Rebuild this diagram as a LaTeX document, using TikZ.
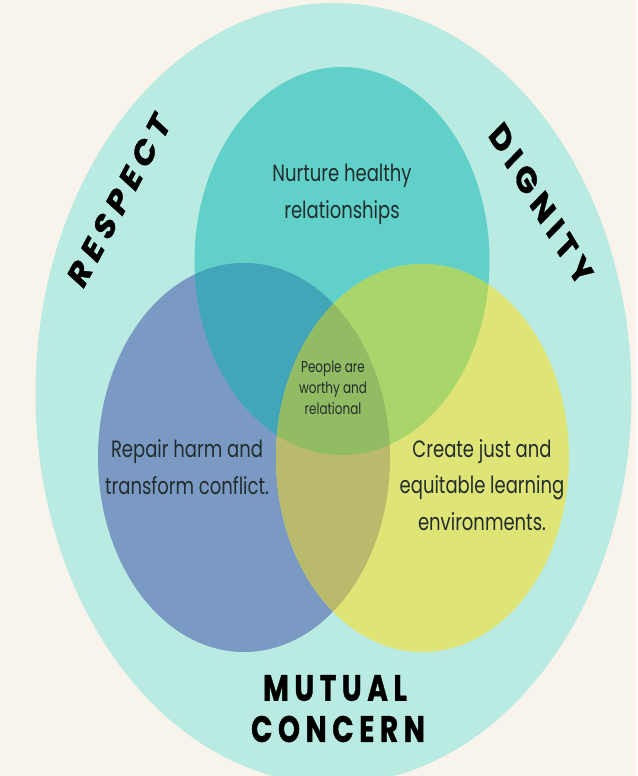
\documentclass[tikz,border=0pt]{standalone}
\usepackage{fontspec}
\setmainfont{Poppins}
\newfontfamily\labfont[LetterSpace=20,FakeBold=1.2]{Poppins}
\definecolor{bg}{RGB}{249,244,235}
\definecolor{outer}{RGB}{185,235,226}
\definecolor{teal}{RGB}{96,208,200}
\definecolor{bluec}{RGB}{122,154,196}
\definecolor{yel}{RGB}{222,228,118}
\definecolor{tb}{RGB}{67,166,184}
\definecolor{ty}{RGB}{168,214,106}
\definecolor{by}{RGB}{186,186,108}
\definecolor{tby}{RGB}{146,188,100}
\definecolor{txt}{RGB}{34,44,44}
\tikzset{
  body/.style={align=center, inner sep=0pt, text=txt, font=\fontsize{18}{28}\selectfont, yscale=1.31},
  small/.style={align=center, inner sep=0pt, text=txt, font=\fontsize{12}{16}\selectfont, yscale=1.31},
  lab/.style={inner sep=0pt, text=black, font=\labfont\bfseries\fontsize{28}{28}\selectfont}
}
\begin{document}
\begin{tikzpicture}[x=1pt,y=-1pt]
\fill[bg] (0,0) rectangle (637,776);
\useasboundingbox (0,0) rectangle (637,776);
\fill[outer] (333.5,393.5) ellipse [x radius=298, y radius=390.5];
% circles
\fill[teal] (342,261) ellipse [x radius=147.5, y radius=194];
\fill[bluec] (244,457.5) ellipse [x radius=146, y radius=194.5];
\fill[yel] (422.5,458) ellipse [x radius=146.5, y radius=194];
% overlaps
\begin{scope}
  \clip (342,261) ellipse [x radius=147.5, y radius=194];
  \fill[tb] (244,457.5) ellipse [x radius=146, y radius=194.5];
  \fill[ty] (422.5,458) ellipse [x radius=146.5, y radius=194];
\end{scope}
\begin{scope}
  \clip (244,457.5) ellipse [x radius=146, y radius=194.5];
  \fill[by] (422.5,458) ellipse [x radius=146.5, y radius=194];
\end{scope}
\begin{scope}
  \clip (342,261) ellipse [x radius=147.5, y radius=194];
  \clip (244,457.5) ellipse [x radius=146, y radius=194.5];
  \fill[tby] (422.5,458) ellipse [x radius=146.5, y radius=194];
\end{scope}
% texts
\node[body] (nurture) at (342,194) {Nurture healthy\\relationships};
\node[body] (repair) at (187,467) {Repair harm and\\transform conflict.};
\node[body] (create) at (482,485) {Create just and\\equitable learning\\environments.};
\node[small] (people) at (333,388) {People are\\worthy and\\relational};
% labels
\node[lab, yscale=1.31, rotate=55] (respect) at (119,200) {RESPECT};
\node[lab, yscale=1.31, rotate=-52] (dignity) at (541,204) {DIGNITY};
\node[lab, yscale=1.31] (mutual) at (335,688) {MUTUAL};
\node[lab, yscale=1.31] (concern) at (338,729) {CONCERN};
\end{tikzpicture}
\end{document}
